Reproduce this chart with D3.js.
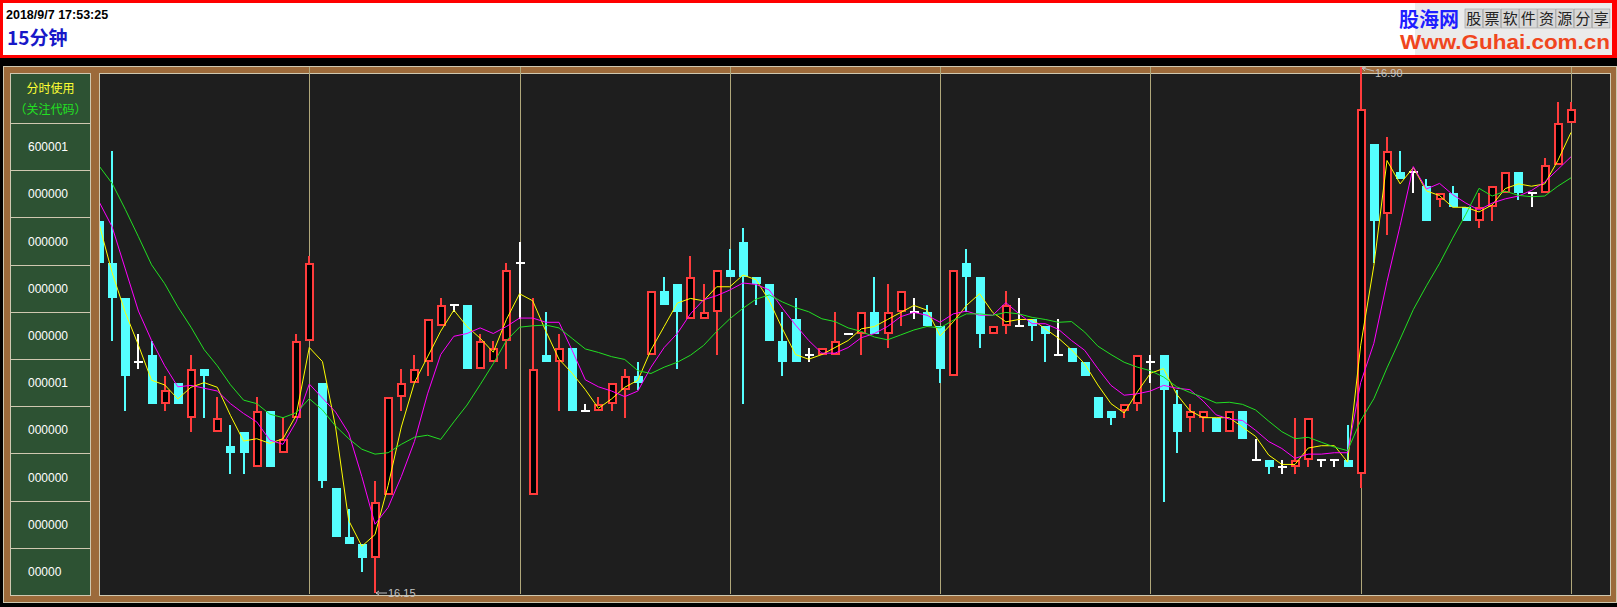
<!DOCTYPE html>
<html><head><meta charset="utf-8">
<script src="https://cdn.jsdelivr.net/npm/d3@7"></script>
<style>html,body{margin:0;padding:0;background:#000;overflow:hidden}</style>
</head><body><svg id="c" width="1617" height="607"></svg>
<script>
// ---- data (15-minute bars) ----
const opens = [16.68,16.62,16.57,16.48,16.49,16.42,16.45,16.40,16.47,16.38,16.36,16.38,16.33,16.41,16.35,16.40,16.51,
16.45,16.30,16.23,16.22,16.20,16.29,16.43,16.45,16.48,16.53,16.56,16.56,16.47,16.48,16.51,16.62,
16.29,16.49,16.48,16.50,16.41,16.41,16.42,16.44,16.46,16.49,16.58,16.59,16.54,16.54,16.55,16.61,
16.65,16.60,16.59,16.51,16.54,16.49,16.49,16.49,16.52,16.52,16.55,16.52,16.55,16.55,16.55,16.53,
16.46,16.62,16.60,16.52,16.53,16.53,16.54,16.53,16.49,16.50,16.48,16.43,16.41,16.41,16.42,16.48,
16.49,16.42,16.40,16.40,16.40,16.38,16.41,16.34,16.34,16.33,16.33,16.34,16.34,16.34,16.34,16.32,
16.79,16.69,16.75,16.75,16.73,16.71,16.72,16.70,16.68,16.70,16.72,16.75,16.72,16.72,16.76,16.82];
const highs = [16.68,16.78,16.57,16.52,16.51,16.46,16.45,16.49,16.47,16.43,16.39,16.38,16.43,16.41,16.40,16.52,16.63,
16.45,16.30,16.27,16.22,16.31,16.43,16.47,16.49,16.54,16.57,16.56,16.56,16.52,16.51,16.62,16.65,
16.57,16.55,16.52,16.50,16.42,16.43,16.45,16.47,16.48,16.58,16.60,16.59,16.63,16.59,16.61,16.64,
16.67,16.60,16.59,16.55,16.57,16.50,16.50,16.55,16.52,16.55,16.60,16.59,16.58,16.57,16.56,16.53,
16.61,16.64,16.60,16.53,16.58,16.57,16.54,16.53,16.54,16.50,16.48,16.43,16.41,16.42,16.49,16.49,
16.49,16.44,16.42,16.41,16.40,16.41,16.41,16.37,16.34,16.34,16.40,16.40,16.34,16.34,16.39,16.90,
16.79,16.80,16.78,16.75,16.74,16.72,16.73,16.70,16.72,16.73,16.75,16.75,16.72,16.77,16.85,16.85];
const lows = [16.62,16.51,16.41,16.47,16.42,16.41,16.42,16.38,16.40,16.38,16.32,16.32,16.33,16.33,16.35,16.40,16.51,
16.30,16.23,16.22,16.18,16.15,16.29,16.41,16.45,16.46,16.53,16.55,16.47,16.47,16.48,16.47,16.54,
16.29,16.48,16.41,16.41,16.41,16.41,16.41,16.40,16.44,16.49,16.56,16.47,16.54,16.54,16.49,16.60,
16.42,16.56,16.51,16.46,16.48,16.48,16.49,16.49,16.52,16.49,16.52,16.50,16.53,16.54,16.53,16.45,
16.46,16.55,16.50,16.52,16.52,16.53,16.51,16.48,16.49,16.48,16.46,16.40,16.39,16.40,16.41,16.45,
16.28,16.35,16.38,16.38,16.38,16.38,16.37,16.34,16.32,16.32,16.32,16.33,16.33,16.33,16.33,16.30,
16.62,16.66,16.74,16.72,16.68,16.70,16.70,16.68,16.67,16.68,16.72,16.71,16.70,16.72,16.76,16.82];
const closes = [16.62,16.57,16.46,16.48,16.42,16.44,16.42,16.47,16.46,16.40,16.35,16.35,16.41,16.33,16.37,16.51,16.62,
16.31,16.23,16.22,16.20,16.28,16.43,16.45,16.47,16.54,16.56,16.56,16.47,16.51,16.50,16.61,16.62,
16.47,16.48,16.50,16.41,16.41,16.42,16.45,16.46,16.45,16.58,16.56,16.55,16.60,16.55,16.61,16.60,
16.60,16.59,16.51,16.48,16.48,16.49,16.50,16.51,16.52,16.55,16.52,16.55,16.58,16.55,16.53,16.47,
16.61,16.60,16.52,16.53,16.56,16.53,16.53,16.52,16.49,16.48,16.46,16.40,16.40,16.42,16.49,16.48,
16.44,16.38,16.41,16.41,16.38,16.41,16.37,16.34,16.33,16.33,16.34,16.40,16.34,16.34,16.33,16.84,
16.68,16.78,16.74,16.75,16.68,16.72,16.70,16.68,16.70,16.73,16.75,16.72,16.72,16.76,16.82,16.84];
// closes just before the visible window (inferred from where the average lines enter)
const priorCloses = [16.82,16.83,16.87,16.82,16.71,16.75,16.76,16.78,16.63];
const maPeriods = [3,5,10];
const maColors = ["#ffff00","#ff00ff","#22e022"];
const dayEnds = [16,32,48,64,80,96,112];
const panelTitle = ["分时使用","（关注代码）"];
const panelCodes = ["600001","000000","000000","000000","000000","000001","000000","000000","000000","00000"];
const headerDate = "2018/9/7 17:53:25";
const headerPeriod = "15分钟";

// ---- drawing ----
const svg = d3.select("#c");
const LAT = "'Liberation Sans', Arial, sans-serif";
const CJK = "'Noto Sans CJK SC', sans-serif";

svg.append("rect").attr("width",1617).attr("height",607).attr("fill","#000");

// header
svg.append("rect").attr("x",0).attr("y",0).attr("width",1617).attr("height",58).attr("fill","#ff0000");
svg.append("rect").attr("x",3).attr("y",3).attr("width",1609).attr("height",52).attr("fill","#fff");
svg.append("rect").attr("x",1415).attr("y",3).attr("width",197).attr("height",52).attr("fill","#ebebeb");
svg.append("text").attr("x",6).attr("y",19).attr("font-family",LAT).attr("font-weight","bold")
  .attr("font-size",12.5).attr("fill","#000").text(headerDate);
svg.append("text").attr("x",7).attr("y",45).attr("font-family",CJK).attr("font-weight","bold")
  .attr("font-size",19).attr("fill","#1818c8").text(headerPeriod);
svg.append("text").attr("x",1399).attr("y",27).attr("font-family",CJK).attr("font-weight","bold")
  .attr("font-size",20).attr("fill","#1e1eff").text("股海网");
const slogan = "股票软件资源分享".split("");
const sg = svg.append("g");
sg.selectAll("rect").data(slogan).join("rect")
  .attr("x",(d,i)=>1465+i*18.2).attr("y",9).attr("width",17.5).attr("height",19)
  .attr("fill","#d8d8d8").attr("stroke","#999").attr("stroke-width",0.6);
sg.selectAll("text").data(slogan).join("text")
  .attr("x",(d,i)=>1465+i*18.2+8.75).attr("y",24).attr("text-anchor","middle")
  .attr("font-family",CJK).attr("font-size",15).attr("fill","#222").text(d=>d);
svg.append("text").attr("x",1400).attr("y",49).attr("font-family",LAT).attr("font-weight","bold")
  .attr("font-size",21).attr("fill","#f0461e").attr("textLength",210).attr("lengthAdjust","spacingAndGlyphs")
  .text("Www.Guhai.com.cn");

// frame
const light = "#cfc8b0";
svg.append("rect").attr("x",3.5).attr("y",66.5).attr("width",1613).attr("height",536)
  .attr("fill","#9c6a3a").attr("stroke",light).attr("stroke-width",1);
svg.append("rect").attr("x",10.5).attr("y",73.5).attr("width",80).attr("height",522)
  .attr("fill","#2d5233").attr("stroke",light).attr("stroke-width",1);
svg.append("rect").attr("x",99.5).attr("y",73.5).attr("width",1511).attr("height",522)
  .attr("fill","#1e1e1e").attr("stroke",light).attr("stroke-width",1);

// left panel
const cellTop = 123, cellH = 47.2;
svg.append("g").selectAll("line").data(panelCodes).join("line")
  .attr("x1",10.5).attr("x2",90.5)
  .attr("y1",(d,i)=>Math.round(cellTop+i*cellH)+0.5).attr("y2",(d,i)=>Math.round(cellTop+i*cellH)+0.5)
  .attr("stroke",light).attr("stroke-width",1);
svg.append("text").attr("x",50.5).attr("y",93).attr("text-anchor","middle").attr("font-family",CJK)
  .attr("font-size",12).attr("fill","#ffff33").text(panelTitle[0]);
svg.append("text").attr("x",50.5).attr("y",114).attr("text-anchor","middle").attr("font-family",CJK)
  .attr("font-size",12).attr("fill","#22e022").text(panelTitle[1]);
svg.append("g").selectAll("text").data(panelCodes).join("text")
  .attr("x",28).attr("y",(d,i)=>cellTop+i*cellH+cellH/2+4.5)
  .attr("font-family",LAT).attr("font-size",12).attr("fill","#ffffff").text(d=>d);

// scales
const x = d3.scaleLinear().domain([0, closes.length-1]).range([99, 1571]);
const y = d3.scaleLinear().domain([16.15, 16.90]).range([593, 67]);

// day separators
svg.append("g").selectAll("line").data(dayEnds).join("line")
  .attr("x1",d=>Math.round(x(d))+0.5).attr("x2",d=>Math.round(x(d))+0.5)
  .attr("y1",67).attr("y2",594).attr("stroke","#b0a77a").attr("stroke-width",1);

svg.append("clipPath").attr("id","plot").append("rect")
  .attr("x",100).attr("y",0).attr("width",1510).attr("height",607);
const plot = svg.append("g").attr("clip-path","url(#plot)");

const bars = closes.map((c,i)=>({i,o:opens[i],h:highs[i],l:lows[i],c}));
const RED = "#ff3c3c", CYAN = "#55ffff", WHITE = "#ffffff";
const g = plot.append("g").attr("shape-rendering","crispEdges");
bars.forEach(b=>{
  const cx = Math.round(x(b.i));
  const col = b.c>b.o ? RED : (b.c<b.o ? CYAN : WHITE);
  const yh = Math.round(y(b.h)), yl = Math.round(y(b.l));
  g.append("rect").attr("x",cx-1).attr("y",yh).attr("width",2).attr("height",Math.max(1,yl-yh)).attr("fill",col);
  if (b.c===b.o){
    const yc = Math.round(y(b.c));
    g.append("rect").attr("x",cx-4).attr("y",yc-1).attr("width",9).attr("height",2).attr("fill",WHITE);
  } else {
    const yt = Math.round(y(Math.max(b.o,b.c))), yb = Math.round(y(Math.min(b.o,b.c)));
    if (b.c>b.o){
      g.append("rect").attr("x",cx-4).attr("y",yt).attr("width",9).attr("height",yb-yt).attr("fill",RED);
      g.append("rect").attr("x",cx-2).attr("y",yt+2).attr("width",5).attr("height",Math.max(0,yb-yt-4)).attr("fill","#000");
    } else {
      g.append("rect").attr("x",cx-4).attr("y",yt).attr("width",9).attr("height",Math.max(2,yb-yt)).attr("fill",CYAN);
    }
  }
});

// moving averages
const all = priorCloses.concat(closes);
maPeriods.forEach((n,k)=>{
  const vals = closes.map((c,i)=>{const j=i+priorCloses.length; return d3.mean(all.slice(j-n+1,j+1));});
  plot.append("path").datum(vals)
    .attr("d", d3.line().x((d,i)=>x(i)).y(d=>y(d)))
    .attr("fill","none").attr("stroke",maColors[k]).attr("stroke-width",1);
});

// extreme labels
const hiI = d3.maxIndex(highs), loI = d3.minIndex(lows);
const hx = Math.round(x(hiI)), hy = y(highs[hiI]);
svg.append("path").attr("d",`M${hx+1},${hy+1} L${hx+13},${hy+4} M${hx+1},${hy+1} l4,-1 M${hx+1},${hy+1} l3,3`)
  .attr("stroke","#bdbdbd").attr("fill","none").attr("stroke-width",1);
svg.append("text").attr("x",hx+14).attr("y",hy+10).attr("font-family",LAT).attr("font-size",11)
  .attr("fill","#c4c4c4").text(highs[hiI].toFixed(2));
const lx = Math.round(x(loI)), ly = y(lows[loI]);
svg.append("path").attr("d",`M${lx+1},${ly} L${lx+12},${ly} M${lx+1},${ly} l3,-2 M${lx+1},${ly} l3,2`)
  .attr("stroke","#bdbdbd").attr("fill","none").attr("stroke-width",1);
svg.append("text").attr("x",lx+13).attr("y",ly+4).attr("font-family",LAT).attr("font-size",11)
  .attr("fill","#c4c4c4").text(lows[loI].toFixed(2));
</script></body></html>
